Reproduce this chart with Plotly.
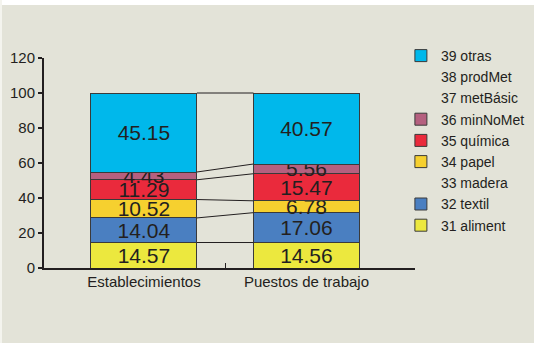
import plotly.graph_objects as go

categories = ["Establecimientos", "Puestos de trabajo"]
series_names = ["31 aliment", "32 textil", "33 madera", "34 papel", "35 química",
                "36 minNoMet", "37 metBásic", "38 prodMet", "39 otras"]
aliment = [14.57, 14.56]
textil = [14.04, 17.06]
madera = [0, 0]
papel = [10.52, 6.78]
quimica = [11.29, 15.47]
minNoMet = [4.43, 5.56]
metBasic = [0, 0]
prodMet = [0, 0]
otras = [45.15, 40.57]
y_ticks = [0, 20, 40, 60, 80, 100, 120]

series_values = [aliment, textil, madera, papel, quimica, minNoMet, metBasic, prodMet, otras]
colors = ["#ece83e", "#4a7fc1", None, "#f6d02f", "#ea2a3c", "#b5607f", None, None, "#00b8eb"]

INK = "#231f20"
BG = "#e3e3d8"
FONT = "Arial, Liberation Sans, sans-serif"
xpos = [0, 1]
bw = 0.652

fig = go.Figure()
for name, vals, col in zip(series_names, series_values, colors):
    has = col is not None
    fig.add_trace(go.Bar(
        x=xpos, y=vals, name=name, width=bw,
        marker=dict(color=col if has else "rgba(0,0,0,0)",
                    line=dict(color="#3a3a3a" if has else "rgba(0,0,0,0)", width=1 if has else 0)),
        text=[f"{v:.2f}" for v in vals] if has else None,
        textposition="inside" if has else "none",
        insidetextanchor="middle", textangle=0, constraintext="none",
        textfont=dict(size=21, color=INK, family=FONT),
        hoverinfo="skip",
    ))

# series lines between bars
cum = [0, 0]
for name, vals, col in zip(series_names, series_values, colors):
    cum = [cum[0] + vals[0], cum[1] + vals[1]]
    if col is None:
        continue
    fig.add_trace(go.Scatter(
        x=[xpos[0] + bw / 2, xpos[1] - bw / 2], y=cum, mode="lines",
        line=dict(color=INK, width=1), showlegend=False, hoverinfo="skip"))

fig.update_layout(
    width=534, height=343,
    margin=dict(l=44, r=119, t=58, b=75, autoexpand=False),
    barmode="stack",
    paper_bgcolor=BG, plot_bgcolor=BG,
    font=dict(family=FONT, size=15, color=INK),
    showlegend=True,
    legend=dict(x=0.962, y=1 + 18 / 210, xanchor="left", yanchor="top", traceorder="reversed",
                bgcolor="rgba(0,0,0,0)", font=dict(size=14, color=INK, family=FONT),
                itemwidth=30, tracegroupgap=0, maxheight=1),
    xaxis=dict(range=[-0.615, 1.668], tickvals=xpos, ticktext=categories, ticks="",
               showline=True, linecolor=INK, linewidth=2, showgrid=False, zeroline=False,
               ticklabelstandoff=-1,
               minor=dict(tickvals=[0.5], ticks="inside", ticklen=5, tickcolor=INK, tickwidth=1)),
    yaxis=dict(range=[0, 120], tickvals=y_ticks, ticks="outside", ticklen=4, tickwidth=2,
               tickcolor=INK, showline=True, linecolor=INK, linewidth=2, showgrid=False,
               zeroline=False),
    shapes=[
        dict(type="rect", xref="paper", yref="paper", x0=-0.2, x1=1.5,
             y0=1 + 53 / 210, y1=1 + 60 / 210, fillcolor="white", line=dict(width=0),
             layer="above"),
        dict(type="rect", xref="paper", yref="paper", x0=-0.2, x1=-42 / 371,
             y0=-1, y1=2, fillcolor="#f4f4ee", line=dict(width=0), layer="above"),
    ],
)

fig.write_html("out.html", config={"displayModeBar": False},
               post_script="document.body.style.margin='0';")
